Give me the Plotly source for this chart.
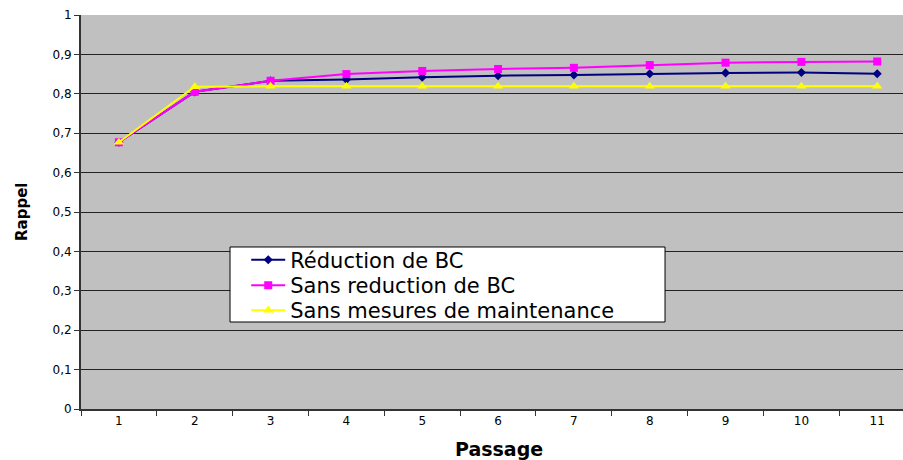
import plotly.graph_objects as go

# Recall per pass for the three maintenance strategies
passages = ["1", "2", "3", "4", "5", "6", "7", "8", "9", "10", "11"]
reduction_bc = [0.677, 0.805, 0.833, 0.836, 0.842, 0.846, 0.848, 0.851, 0.853, 0.854, 0.851]
sans_reduction_bc = [0.677, 0.805, 0.833, 0.850, 0.858, 0.863, 0.866, 0.873, 0.879, 0.881, 0.882]
sans_maintenance = [0.677, 0.818, 0.819, 0.819, 0.819, 0.819, 0.819, 0.819, 0.819, 0.819, 0.819]

y_tickvals = [0, 0.1, 0.2, 0.3, 0.4, 0.5, 0.6, 0.7, 0.8, 0.9, 1]
y_ticktext = ["0", "0,1", "0,2", "0,3", "0,4", "0,5", "0,6", "0,7", "0,8", "0,9", "1"]

WIDE = "DejaVu Sans, Verdana, sans-serif"

fig = go.Figure()
fig.add_trace(go.Scatter(
    x=passages, y=reduction_bc, name="Réduction de BC", mode="lines+markers",
    line=dict(color="#000080", width=2),
    marker=dict(symbol="diamond", size=7, color="#000080"),
    legend="legend",
))
fig.add_trace(go.Scatter(
    x=passages, y=sans_reduction_bc, name="Sans reduction de BC", mode="lines+markers",
    line=dict(color="#FF00FF", width=2),
    marker=dict(symbol="square", size=8, color="#FF00FF"),
    legend="legend2",
))
fig.add_trace(go.Scatter(
    x=passages, y=sans_maintenance, name="Sans mesures de maintenance", mode="lines+markers",
    line=dict(color="#FFFF00", width=2),
    marker=dict(symbol="triangle-up", size=9, color="#FFFF00"),
    legend="legend3",
))

# one legend per entry so each row sits on its own line inside the box
legend_style = dict(
    x=0.201, xanchor="left", yanchor="top",
    bgcolor="rgba(0,0,0,0)", borderwidth=0,
    font=dict(family=WIDE, size=21, color="black"),
    itemwidth=34,
)

fig.update_layout(
    width=903, height=460,
    margin=dict(l=81, r=0, t=15, b=51),
    paper_bgcolor="white",
    plot_bgcolor="#C0C0C0",
    font=dict(family=WIDE, color="black", size=12),
    showlegend=True,
    legend=dict(y=0.4300, **legend_style),
    legend2=dict(y=0.3655, **legend_style),
    legend3=dict(y=0.3020, **legend_style),
    # white framed box behind the legend entries
    shapes=[dict(
        type="rect", xref="paper", yref="paper",
        x0=0.1813, x1=0.7105, y0=0.2208, y1=0.4112,
        fillcolor="white", line=dict(color="black", width=1), layer="above",
    )],
    annotations=[
        dict(text="<b>Passage</b>", xref="paper", yref="paper", x=0.5085, y=-0.1015,
             xanchor="center", yanchor="middle", showarrow=False,
             font=dict(family=WIDE, size=19, color="black")),
        dict(text="<b>Rappel</b>", xref="paper", yref="paper", x=-0.0718, y=0.5,
             xanchor="center", yanchor="middle", showarrow=False, textangle=-90,
             font=dict(family=WIDE, size=15, color="black")),
    ],
    xaxis=dict(
        type="category",
        range=[-0.5, 10.34],
        tickson="boundaries",
        ticks="outside", ticklen=5, tickcolor="#333333", tickwidth=1,
        showgrid=False,
        showline=True, linecolor="#333333", linewidth=2,
        tickfont=dict(size=12),
    ),
    yaxis=dict(
        range=[0, 1],
        tickvals=y_tickvals, ticktext=y_ticktext,
        ticks="outside", ticklen=5, tickcolor="#333333", tickwidth=1,
        showgrid=True, gridcolor="#222222", gridwidth=1,
        showline=True, linecolor="#333333", linewidth=2,
        zeroline=False,
        tickfont=dict(size=12),
    ),
)

fig.write_html("out.html")
